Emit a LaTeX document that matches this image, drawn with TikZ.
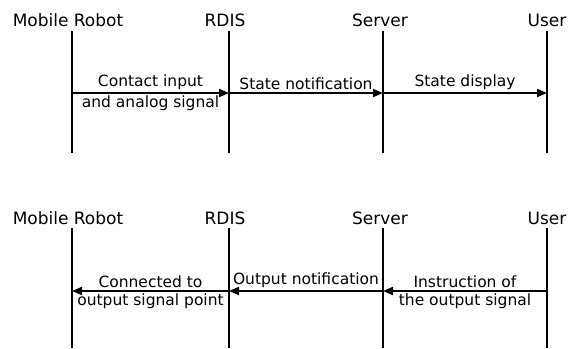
\documentclass[tikz,border=0pt]{standalone}
\usepackage{fontspec}
\setmainfont{DejaVu Sans}
\usetikzlibrary{arrows.meta}
\tikzset{
  actor/.style={inner sep=0pt, anchor=base, font=\fontsize{17}{20}\selectfont},
  life/.style={line width=1.8pt},
  msg/.style={line width=1.8pt, -{Triangle[length=10pt,width=8pt]}},
  lbl/.style={font=\fontsize{15.5}{18}\selectfont, inner sep=2pt}
}
\begin{document}
\begin{tikzpicture}[x=1pt,y=1pt]
\useasboundingbox (0,0) rectangle (570,-348);
% upper chart: robot -> user
\node [actor] (robotA) at (68,-27) {Mobile Robot};
\node [actor] (rdisA) at (225,-27) {RDIS};
\node [actor] (serverA) at (380,-27) {Server};
\node [actor] (userA) at (547,-27) {User};
\coordinate (robotAtop) at (72,-31);
\coordinate (robotAbot) at (72,-153);
\coordinate (rdisAtop) at (229,-31);
\coordinate (rdisAbot) at (229,-153);
\coordinate (serverAtop) at (383,-31);
\coordinate (serverAbot) at (383,-153);
\coordinate (userAtop) at (547,-31);
\coordinate (userAbot) at (547,-153);
\foreach \n in {robotA,rdisA,serverA,userA}
  \draw [life] (\n top) -- (\n bot);
\coordinate (msgA) at (0,-93);
\draw [msg] (robotAtop |- msgA) -- (rdisAtop |- msgA)
  node [lbl, midway, above] {Contact input}
  node [lbl, midway, below] {and analog signal};
\draw [msg] (rdisAtop |- msgA) -- (serverAtop |- msgA)
  node [lbl, midway, above] {State notification};
\draw [msg] (serverAtop |- msgA) -- (userAtop |- msgA)
  node [lbl, midway, above] {State display};
% lower chart: user -> robot
\node [actor] (robotB) at (68,-224) {Mobile Robot};
\node [actor] (rdisB) at (225,-224) {RDIS};
\node [actor] (serverB) at (380,-224) {Server};
\node [actor] (userB) at (547,-224) {User};
\coordinate (robotBtop) at (72,-228);
\coordinate (robotBbot) at (72,-348);
\coordinate (rdisBtop) at (229,-228);
\coordinate (rdisBbot) at (229,-348);
\coordinate (serverBtop) at (383,-228);
\coordinate (serverBbot) at (383,-348);
\coordinate (userBtop) at (547,-228);
\coordinate (userBbot) at (547,-348);
\foreach \n in {robotB,rdisB,serverB,userB}
  \draw [life] (\n top) -- (\n bot);
\coordinate (msgB) at (0,-291);
\draw [msg] (userBtop |- msgB) -- (serverBtop |- msgB)
  node [lbl, midway, above] {Instruction of}
  node [lbl, midway, below] {the output signal};
\draw [msg] (serverBtop |- msgB) -- (rdisBtop |- msgB)
  node [lbl, midway, above] {Output notification};
\draw [msg] (rdisBtop |- msgB) -- (robotBtop |- msgB)
  node [lbl, midway, above] {Connected to}
  node [lbl, midway, below] {output signal point};
\end{tikzpicture}
\end{document}
